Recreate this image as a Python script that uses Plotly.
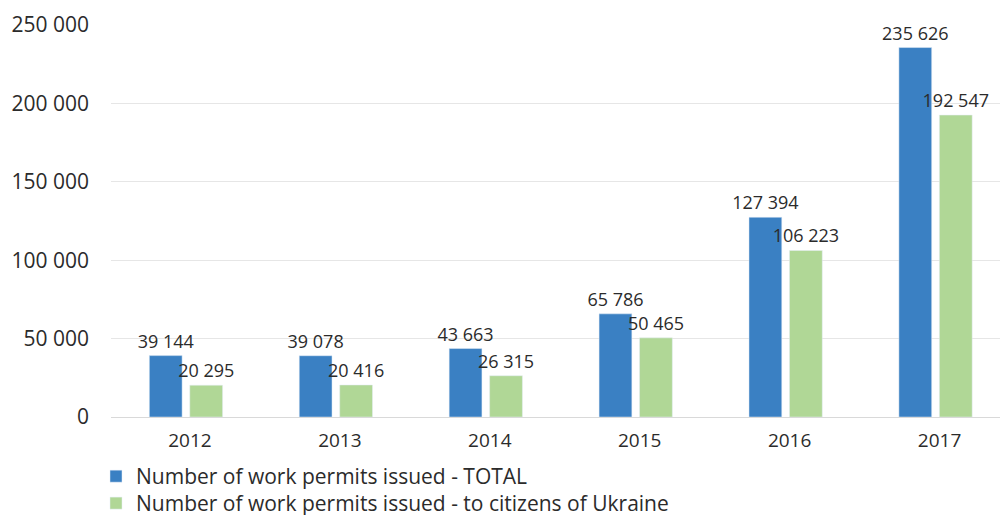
import plotly.graph_objects as go

years = ["2012", "2013", "2014", "2015", "2016", "2017"]
total = [39144, 39078, 43663, 65786, 127394, 235626]
ukraine = [20295, 20416, 26315, 50465, 106223, 192547]
name_total = "Number of work permits issued - TOTAL"
name_ukr = "Number of work permits issued - to citizens of Ukraine"
y_ticks = [0, 50000, 100000, 150000, 200000, 250000]

def fmt(v):
    return f"{v:,}".replace(",", " ")

font = "Open Sans"
txt = "#2b2b2b"
fig = go.Figure()
fig.add_trace(go.Bar(x=years, y=total, name=name_total, marker_color="#3a80c3",
                     text=[fmt(v) for v in total], textposition="outside",
                     constraintext="none", legend="legend",
                     textfont=dict(size=18, color=txt), cliponaxis=False))
fig.add_trace(go.Bar(x=years, y=ukraine, name=name_ukr, marker_color="#b0d796",
                     text=[fmt(v) for v in ukraine], textposition="outside",
                     constraintext="none", legend="legend2",
                     textfont=dict(size=18, color=txt), cliponaxis=False))

leg_common = dict(orientation="v", xref="container", yref="container",
                  x=0.096, xanchor="left", yanchor="top",
                  font=dict(size=21, color=txt), itemwidth=30, tracegroupgap=0,
                  bgcolor="rgba(0,0,0,0)")

fig.update_layout(
    width=1000, height=515,
    margin=dict(l=111, r=0, t=25, b=98, autoexpand=False),
    paper_bgcolor="white", plot_bgcolor="white",
    font=dict(family=font, size=19, color=txt),
    barmode="group", bargap=0.46, bargroupgap=0.19,
    separators=". ",
    showlegend=True,
    legend=dict(leg_common, y=0.1145),
    legend2=dict(leg_common, y=0.0622),
)
fig.update_xaxes(range=[-0.5, 5.43], showgrid=False, showline=False, ticks="",
                 tickfont=dict(size=19), ticklabelshift=4, ticklabelstandoff=10,
                 automargin=False)
fig.update_yaxes(range=[0, 250000], tickvals=y_ticks, tickformat=",d",
                 showgrid=True, gridcolor="#e6e6e6", gridwidth=1,
                 zeroline=True, zerolinecolor="#d9d9d9", zerolinewidth=1,
                 ticks="", ticklabelstandoff=21, tickfont=dict(size=21),
                 automargin=False)
fig.write_html("out.html", config={"displayModeBar": False},
               post_script="document.body.style.margin='0';"
                           "document.documentElement.style.overflow='hidden';")
